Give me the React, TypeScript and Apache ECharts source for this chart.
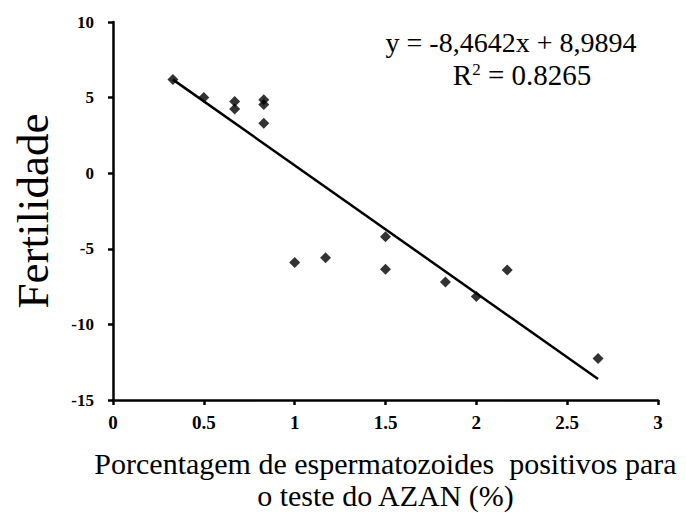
import React, { useEffect, useRef } from "react";
import * as echarts from "echarts";

const xValues = [0.33, 0.5, 0.67, 0.67, 0.83, 0.83, 0.83, 1.0, 1.17, 1.5, 1.5, 1.83, 2.0, 2.17, 2.67];
const yValues = [6.2, 5.0, 4.75, 4.25, 4.85, 4.55, 3.3, -5.9, -5.6, -4.2, -6.35, -7.2, -8.15, -6.4, -12.25];
const trendX = [0.33, 2.67];
const trendY = [6.19, -13.61];
const equationText = "y = -8,4642x + 8,9894";
const r2Text = "0.8265";
const xTitle = "Porcentagem de espermatozoides  positivos para\no teste do AZAN (%)";
const yTitle = "Fertilidade";

const FONT = "'Liberation Serif', 'Times New Roman', serif";

export default function App() {
  const ref = useRef<HTMLDivElement>(null);
  useEffect(() => {
    if (!ref.current) return;
    const chart = echarts.init(ref.current, null, { renderer: "svg" });
    const points = xValues.map((x, i) => [x, yValues[i]]);
    const trend = trendX.map((x, i) => [x, trendY[i]]);
    chart.setOption({
      animation: false,
      backgroundColor: "#fff",
      grid: { left: 113, right: 28, top: 22, bottom: 113, outerBoundsMode: "none", containLabel: false },
      xAxis: {
        type: "value",
        min: 0,
        max: 3,
        interval: 0.5,
        splitLine: { show: false },
        axisLine: { show: true, onZero: false, lineStyle: { color: "#000", width: 2.5 } },
        axisTick: { show: true, length: 5, lineStyle: { color: "#000", width: 2.5 } },
        axisLabel: {
          color: "#000",
          fontFamily: FONT,
          fontWeight: "bold",
          fontSize: 19,
          margin: 13,
          formatter: (v: number) => String(v),
        },
        name: xTitle,
        nameLocation: "middle",
        nameGap: 47,
        nameTextStyle: { color: "#000", fontFamily: FONT, fontSize: 30, lineHeight: 32 },
      },
      yAxis: {
        type: "value",
        min: -15,
        max: 10,
        interval: 5,
        splitLine: { show: false },
        axisLine: { show: true, onZero: false, lineStyle: { color: "#000", width: 2.5 } },
        axisTick: { show: true, length: 5, lineStyle: { color: "#000", width: 2.5 } },
        axisLabel: {
          color: "#000",
          fontFamily: FONT,
          fontWeight: "bold",
          fontSize: 17,
          margin: 19,
        },
        name: yTitle,
        nameLocation: "middle",
        nameGap: 58,
        nameTextStyle: { color: "#000", fontFamily: FONT, fontSize: 45 },
      },
      series: [
        {
          type: "line",
          data: trend,
          showSymbol: false,
          symbol: "none",
          lineStyle: { color: "#000", width: 2.5 },
          z: 1,
        },
        {
          type: "scatter",
          data: points,
          symbol: "diamond",
          symbolSize: 11,
          itemStyle: { color: "#000" },
          z: 2,
        },
      ],
      graphic: [
        {
          type: "text",
          x: 511,
          y: 42,
          style: {
            text: equationText,
            font: `28px ${FONT}`,
            fill: "#000",
            align: "center",
            verticalAlign: "middle",
          },
        },
        {
          type: "text",
          x: 522,
          y: 75,
          style: {
            text: `{a|R}{s|2}{a| = ${r2Text}}`,
            fill: "#000",
            align: "center",
            verticalAlign: "middle",
            rich: {
              a: { fontFamily: FONT, fontSize: 29, fill: "#000", verticalAlign: "bottom" },
              s: { fontFamily: FONT, fontSize: 17, fill: "#000", verticalAlign: "top", padding: [0, 0, 12, 0] },
            },
          },
        },
      ],
    });
    return () => chart.dispose();
  }, []);
  return <div ref={ref} style={{ width: 686, height: 513, position: "absolute", left: 0, top: 0 }} />;
}
